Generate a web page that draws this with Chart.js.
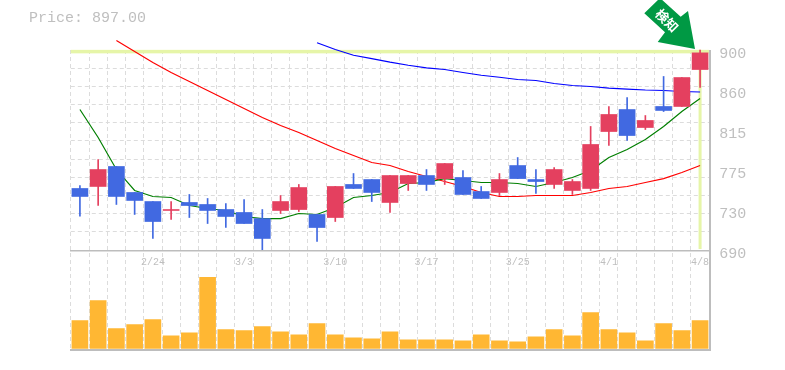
<!DOCTYPE html>
<html><head><meta charset="utf-8">
<style>html,body{margin:0;padding:0;background:#fff}#w{width:785px;height:370px}</style>
<script src="https://cdn.jsdelivr.net/npm/chart.js@4"></script></head>
<body><div id="w"><canvas id="c" width="785" height="370"></canvas></div>
<script>
const dates=['','','','','2/24','','','','','3/3','','','','','3/10','','','','','3/17','','','','','3/25','','','','','4/1','','','','','4/8'];
const open=[754.6,756.7,777.7,750.4,740.9,731.5,739.9,737.8,732.5,729.4,723,731.5,732.5,727.3,724.1,758.8,764,739.9,759.8,768.2,765,766.1,751.4,750.4,778.7,764,758.8,752.5,754.6,814.4,837.5,818.6,840.7,840.7,879.5];
const close=[746.2,774.5,746.2,742,719.9,732.5,736.7,731.5,725.2,717.8,702.1,740.9,755.6,713.6,756.7,754.6,750.4,768.2,768.2,758.8,780.8,748.3,744.1,764,765,761.9,774.5,761.9,800.8,832.3,810.2,826,836.5,871.1,897];
const high=[757.7,785,777.7,750.4,740.9,740.9,748.3,744.1,738.8,743,732.5,747.2,758.8,727.3,756.7,770.3,764,768.2,768.2,774.5,780.8,773.5,756.7,770.3,787.1,774.5,776.6,764,819.7,840.7,850.1,831.2,872.2,871.1,900];
const low=[725.5,736.7,737.8,727.3,702.1,722,724.1,717.8,713.6,717.8,689.5,728.3,730.4,698.9,719.9,754.6,740.9,729.4,752.5,752.5,758.8,748.3,744.1,747.2,765,749.3,754.6,748.3,752.5,799.7,805,816.5,835.4,840.7,860.6];
const ma5=[837.5,808.1,774.5,752.5,746.2,745.1,736.7,733.6,731.5,725.2,723,723,728.3,727.3,734.6,745.1,747.2,750.4,759.8,760.9,765,763,760.9,760.9,759.8,756.7,760.9,766.1,773.5,787.1,795.5,806,819.7,835.4,849.1];
const ma25=[null,null,910,898.4,886.9,876.4,866.9,857.5,848,838.6,829.1,820.7,813.4,805,796.6,789.2,781.9,778.7,772.4,767.2,761.9,756.7,750.4,746.2,746.2,747.2,747.2,747.2,750.4,754.6,756.7,760.9,765,771.4,778.7];
const ma75=[null,null,null,null,null,null,null,null,null,null,null,null,null,907.6,900.5,894.5,891,887.2,884,881.3,879.5,876.4,873.5,871.4,869,868,864.8,862.7,861.7,860,859,858,857.5,856.4,855.9];
const volume=[27.7,47.7,19.7,23.7,28.7,12.7,15.7,70.7,18.7,17.7,21.7,16.7,13.7,24.7,13.7,10.7,9.7,16.7,8.7,8.7,8.7,7.7,13.7,7.7,6.7,11.7,18.7,12.7,35.7,18.7,15.7,7.7,24.7,17.7,27.7];
const priceLabels=['900','860','815','775','730','690'];
const priceLabelTicks=[895.3,853.3,811.3,769.3,727.3,685.3];
const priceGridTicks=[900,880.9,861.8,842.7,823.6,804.5,785.5,766.4,747.3,728.2,709.1];
const arrowText='検知';

const RED='#e4405f',BLUE='#4169e1',GRID='#dcdcdc',AXIS='#bdbdbd',TXT='#bfbfbf';
const MONO='"Liberation Mono",monospace';
const candleColor=open.map((o,i)=>close[i]>=o?RED:BLUE);

const decor={id:'decor',
 beforeDatasetsDraw(ch){
  const c=ch.ctx,a=ch.chartArea,y=ch.scales.y,x=ch.scales.x,n=close.length-1;
  c.save();c.fillStyle='#e6f5a8';
  const py=y.getPixelForValue(close[n]);
  c.fillRect(a.left,py-3,a.right-a.left,3.5);
  const px=x.getPixelForValue(n);
  c.fillRect(px-1.5,py-3,3,y.bottom-py+2);
  c.restore();
 },
 afterDraw(ch){
  const c=ch.ctx,a=ch.chartArea,y=ch.scales.y;
  const L=Math.floor(a.left),R=Math.round(a.right);
  c.save();
  c.fillStyle=AXIS;
  c.fillRect(L,a.bottom-1,R-L+2,2);
  c.fillRect(L,y.bottom,R-L+2,1.5);
  c.fillRect(R,a.top,2,a.bottom-a.top);
  c.fillStyle=TXT;c.font='15px '+MONO;c.textBaseline='middle';c.textAlign='left';
  c.fillText('Price: '+close[close.length-1].toFixed(2),29,18);
  c.fillStyle='#009944';c.beginPath();
  [[644.3,13.3],[660,-2],[680.7,16.7],[688,11],[695,49],[657.7,42],[665,32.3]].forEach((p,i)=>i?c.lineTo(p[0],p[1]):c.moveTo(p[0],p[1]));
  c.closePath();c.fill();
  c.translate(667,20.5);c.rotate(Math.PI/4);
  c.fillStyle='#fff';c.font='bold 13px "Noto Sans CJK JP"';c.textAlign='center';c.textBaseline='middle';
  c.fillText(arrowText,0,0);
  c.restore();
 }};

new Chart(document.getElementById('c'),{
 data:{labels:dates,datasets:[
  {type:'bar',label:'body',data:open.map((o,i)=>[o,close[i]]),backgroundColor:candleColor,barThickness:16,grouped:false,order:1,yAxisID:'y',clip:false},
  {type:'bar',label:'wick',data:low.map((l,i)=>[l,high[i]]),backgroundColor:candleColor,barThickness:1,grouped:false,order:2,yAxisID:'y',clip:false},
  {type:'line',label:'MA5',data:ma5,borderColor:'#007f00',borderWidth:1.2,pointRadius:0,tension:0,order:3,yAxisID:'y',clip:false},
  {type:'line',label:'MA25',data:ma25,borderColor:'#ff0000',borderWidth:1.2,pointRadius:0,tension:0,order:3,yAxisID:'y',clip:false},
  {type:'line',label:'MA75',data:ma75,borderColor:'#0000ff',borderWidth:1.2,pointRadius:0,tension:0,order:3,yAxisID:'y',clip:false},
  {type:'bar',label:'Volume',data:volume,backgroundColor:'#ffb733',barThickness:16,grouped:false,order:4,yAxisID:'yVol'}
 ]},
 options:{responsive:false,animation:false,
  layout:{padding:{left:70.8,right:10.8,top:50,bottom:20}},
  plugins:{legend:{display:false},tooltip:{enabled:false}},
  scales:{
   x:{position:{yVol:98},
      grid:{color:GRID,drawTicks:false,offset:true},
      border:{dash:[4,3],display:false},
      ticks:{autoSkip:false,maxRotation:0,minRotation:0,color:TXT,font:{family:MONO,size:10},padding:6}},
   y:{position:'right',stack:'p',stackWeight:2,min:690,max:900,
      afterBuildTicks(s){s.ticks=priceGridTicks.concat(priceLabelTicks).map(v=>({value:v}));},
      afterFit(s){s.width=65;},
      grid:{drawTicks:false,color:c=>priceLabelTicks.includes(c.tick&&c.tick.value)?'transparent':GRID},
      border:{display:false,dash:[4,3]},
      ticks:{autoSkip:false,color:TXT,font:{family:MONO,size:15},padding:10,
        callback:v=>{const i=priceLabelTicks.indexOf(v);return i<0?'':priceLabels[i];}}},
   yVol:{position:'right',stack:'p',stackWeight:1,min:-1.5,max:98,
      afterFit(s){s.width=65;},
      grid:{display:false},
      border:{display:false},
      ticks:{display:false}}
  }},
 plugins:[decor]
});
</script></body></html>
